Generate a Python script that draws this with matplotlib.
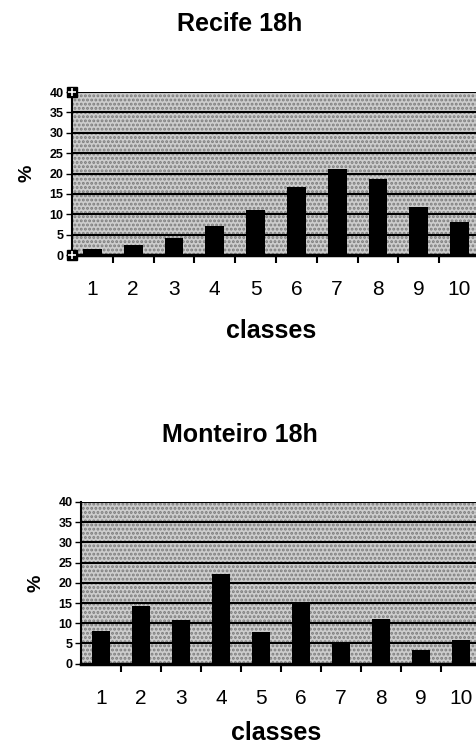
import numpy as np
import matplotlib.pyplot as plt
from matplotlib.patches import Rectangle

# classes de frequencia (%)
classes = [1, 2, 3, 4, 5, 6, 7, 8, 9, 10]
recife = [1.5, 2.5, 4.1, 7.1, 11.1, 16.8, 21.2, 18.7, 11.7, 8.2]
monteiro = [8.1, 14.3, 10.8, 22.2, 7.9, 15.2, 5.2, 11.0, 3.5, 5.9]
yticks = [0, 5, 10, 15, 20, 25, 30, 35, 40]

plt.rcParams['font.family'] = ['Liberation Sans', 'DejaVu Sans']
plt.rcParams['hatch.linewidth'] = 1.4

fig = plt.figure(figsize=(4.77, 7.47), dpi=100)


def painel(rect, valores, titulo, titulo_y, xlabel_y, handles=False):
    ax = fig.add_axes(rect)
    # fundo pontilhado
    fundo = Rectangle((0, 0), 1, 1, transform=ax.transAxes, facecolor='#cdcdcd',
                      edgecolor='#7c7c7c', hatch='....', linewidth=0, zorder=0)
    ax.add_patch(fundo)
    ax.patch.set_visible(False)

    for y in yticks[1:]:
        ax.axhline(y, color='black', linewidth=1.5, zorder=1)
    ax.bar(classes, valores, width=0.46, color='black', zorder=2)

    ax.set_xlim(0.5, 10.5)
    ax.set_ylim(0, 40)
    ax.set_yticks(yticks)
    ax.set_yticklabels([str(v) for v in yticks], fontsize=9, fontweight='bold')
    ax.tick_params(axis='y', length=4, width=1, pad=2)

    ax.set_xticks(classes)
    ax.set_xticklabels([str(c) for c in classes], fontsize=15)
    ax.set_xticks(np.arange(1.5, 10.5, 1), minor=True)
    ax.tick_params(axis='x', which='major', length=0, pad=18)
    ax.tick_params(axis='x', which='minor', length=6, width=1.5)

    for s in ['top', 'right']:
        ax.spines[s].set_visible(False)
    ax.spines['bottom'].set_linewidth(2.5)
    ax.spines['left'].set_linewidth(1.5)

    ax.set_ylabel('%', fontsize=14, fontweight='bold', labelpad=10)

    if handles:
        ax.plot([0.5, 0.5], [0, 40], linestyle='none', marker='s', markersize=7,
                color='black', clip_on=False, zorder=5)
        ax.plot([0.5, 0.5], [0, 40], linestyle='none', marker='+', markersize=6,
                color='white', markeredgewidth=1.2, clip_on=False, zorder=6)

    cx = rect[0] + rect[2] / 2
    fig.text(0.503, titulo_y, titulo, ha='center', va='center',
             fontsize=18, fontweight='bold')
    fig.text(cx - 0.01, xlabel_y, 'classes', ha='center', va='baseline',
             fontsize=18, fontweight='bold')
    return ax


painel([0.1509, 0.6586, 0.8553, 0.2182], recife, 'Recife 18h',
       1 - 24 / 747, 1 - 338 / 747, handles=True)
painel([0.1698, 0.1115, 0.8386, 0.2165], monteiro, 'Monteiro 18h',
       1 - 435 / 747, 1 - 740 / 747)

fig.savefig('out.png', dpi=100)
